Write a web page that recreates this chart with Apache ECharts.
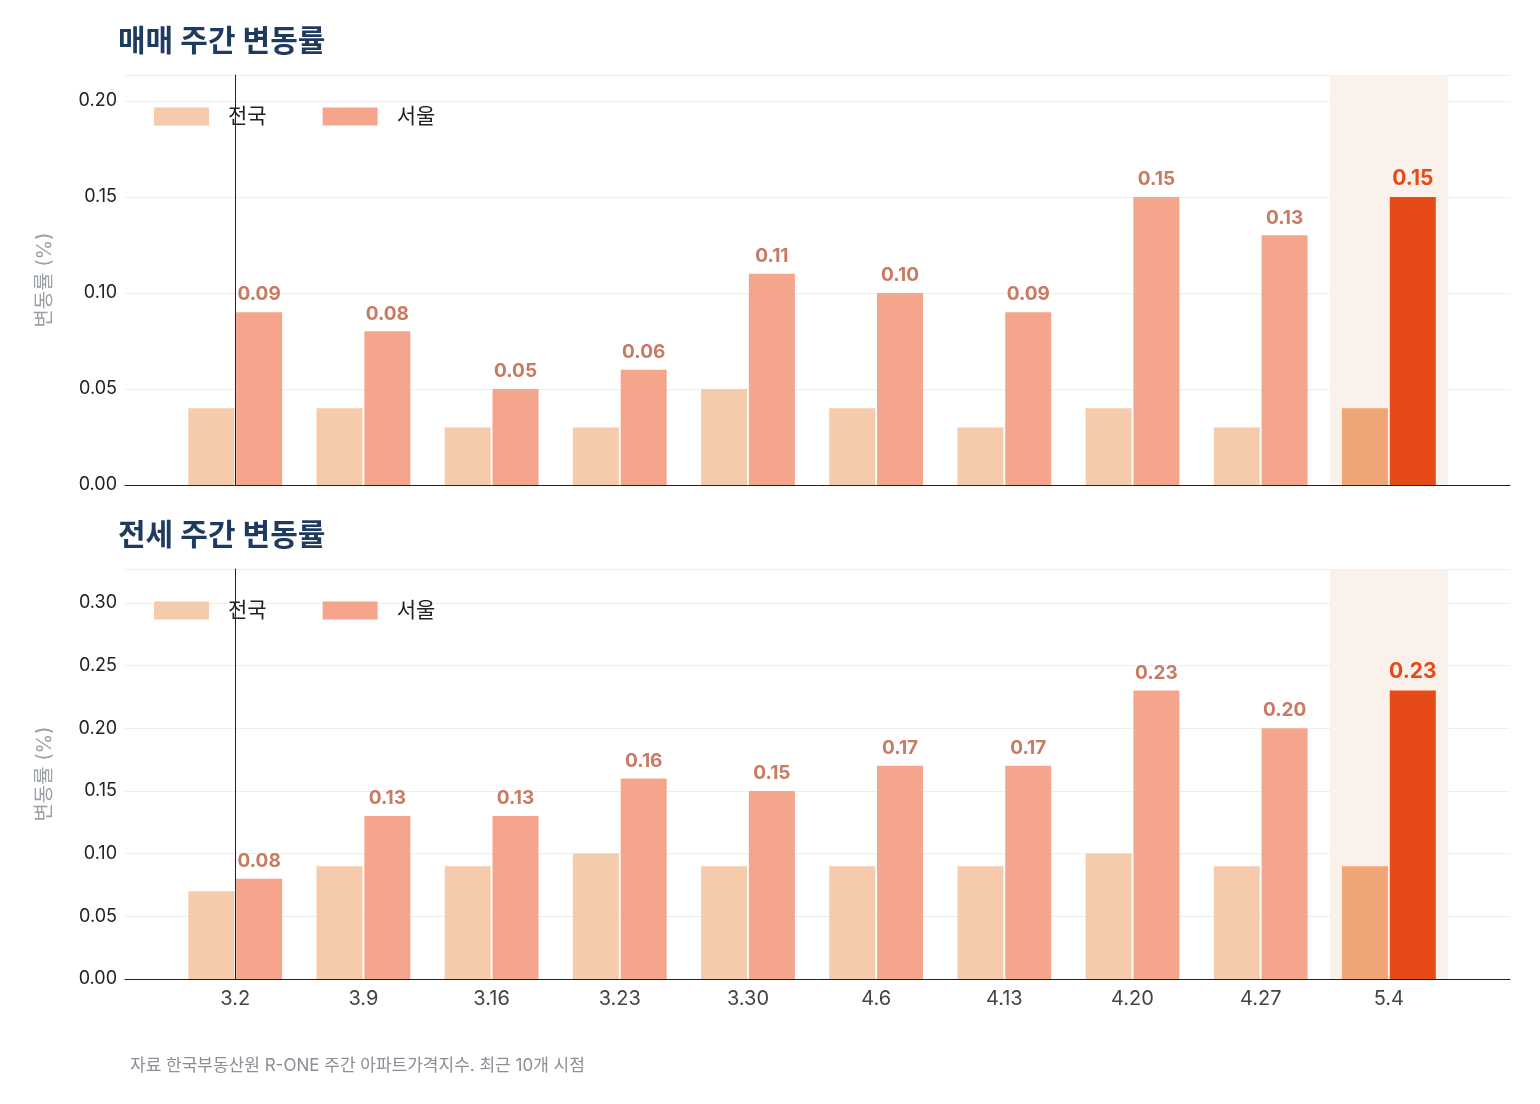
<!DOCTYPE html>
<html><head><meta charset="utf-8">
<script src="https://cdn.jsdelivr.net/npm/echarts@6/dist/echarts.min.js"></script>
<style>html,body{margin:0;background:#fff}#c{width:1540px;height:1104px}</style>
</head><body><div id="c"></div>
<script>
var weeks = ['3.2','3.9','3.16','3.23','3.30','4.6','4.13','4.20','4.27','5.4'];
var saleNation = [0.04,0.04,0.03,0.03,0.05,0.04,0.03,0.04,0.03,0.04];
var saleSeoul = [0.09,0.08,0.05,0.06,0.11,0.10,0.09,0.15,0.13,0.15];
var rentNation = [0.07,0.09,0.09,0.10,0.09,0.09,0.09,0.10,0.09,0.09];
var rentSeoul = [0.08,0.13,0.13,0.16,0.15,0.17,0.17,0.23,0.20,0.23];

var FONT = 'Inter, "Noto Sans CJK KR", sans-serif';
var last = weeks.length - 1;

function pts(arr, colNormal, colLast) {
    return arr.map(function (v, i) {
        return { value: [i, v], itemStyle: { color: i === last ? colLast : colNormal } };
    });
}

function seoulPts(arr) {
    return arr.map(function (v, i) {
        var d = { value: [i, v], itemStyle: { color: i === last ? '#e64a19' : '#f4a58b' } };
        if (i === last) d.label = { color: '#e64a19', fontSize: 21, fontWeight: 'bold' };
        return d;
    });
}

function xAxis(idx, showLabel) {
    return {
        type: 'value', gridIndex: idx, min: -0.86, max: 9.945,
        splitLine: { show: false },
        axisLine: { show: true, onZero: false, lineStyle: { color: '#222' } },
        axisTick: { show: false },
        axisLabel: {
            show: showLabel, customValues: weeks.map(function (w, i) { return i; }),
            formatter: function (v) { return weeks[Math.round(v)]; },
            fontSize: 20, color: '#444', fontFamily: FONT, margin: 10
        }
    };
}

function yAxis(idx, max) {
    return {
        type: 'value', gridIndex: idx, min: 0, max: max, interval: 0.05,
        name: '변동률 (%)', nameLocation: 'middle', nameGap: 70,
        nameTextStyle: { color: '#9aa0a6', fontSize: 20, fontFamily: FONT },
        axisLine: { show: true, lineStyle: { color: '#222' } },
        axisTick: { show: false },
        axisLabel: { formatter: function (v) { return v.toFixed(2); }, fontSize: 18, color: '#222', fontFamily: FONT, showMaxLabel: false },
        splitLine: { lineStyle: { color: '#eeeeee' } }
    };
}

function bars(idx, nation, seoul) {
    return [
        {
            name: '전국', type: 'bar', xAxisIndex: idx, yAxisIndex: idx,
            barWidth: 46, barGap: '4%', color: '#f6cbab',
            data: pts(nation, '#f6cbab', '#f0a576'),
            markArea: {
                silent: true, itemStyle: { color: '#faf1ea' },
                data: [[{ xAxis: 8.54, yAxis: 0 }, { xAxis: 9.46, yAxis: idx === 0 ? 0.2135 : 0.327 }]]
            }
        },
        {
            name: '서울', type: 'bar', xAxisIndex: idx, yAxisIndex: idx,
            barWidth: 46, color: '#f4a58b',
            data: seoulPts(seoul),
            label: {
                show: true, position: 'top', distance: 8,
                formatter: function (p) { return p.value[1].toFixed(2); },
                color: '#c97b62', fontSize: 19, fontWeight: 'bold', fontFamily: FONT
            }
        }
    ];
}

var legendBase = {
    left: 149, itemWidth: 55, itemHeight: 18, itemGap: 56,
    icon: 'rect', textStyle: { fontSize: 21, color: '#222', fontFamily: FONT, padding: [0, 0, 0, 14] },
    data: ['전국', '서울']
};

var chart = echarts.init(document.getElementById('c'));
chart.setOption({
    animation: false,
    title: [
        { text: '매매 주간 변동률', left: 113, top: 22, textStyle: { fontSize: 30, fontWeight: 'bold', color: '#1f3a5f', fontFamily: FONT } },
        { text: '전세 주간 변동률', left: 113, top: 516, textStyle: { fontSize: 30, fontWeight: 'bold', color: '#1f3a5f', fontFamily: FONT } },
        { text: '자료 한국부동산원 R-ONE 주간 아파트가격지수. 최근 10개 시점', left: 125, top: 1052, textStyle: { fontSize: 17, fontWeight: 'normal', color: '#8a8f96', fontFamily: FONT } }
    ],
    legend: [
        Object.assign({ top: 101 }, legendBase),
        Object.assign({ top: 595 }, legendBase)
    ],
    grid: [
        { left: 125, right: 30, top: 75, height: 410 },
        { left: 125, right: 30, top: 569, height: 410 }
    ],
    xAxis: [xAxis(0, false), xAxis(1, true)],
    yAxis: [yAxis(0, 0.2135), yAxis(1, 0.327)],
    series: bars(0, saleNation, saleSeoul).concat(bars(1, rentNation, rentSeoul))
});

// "이번 주" annotations
var g = [];
[[0, 112, 132, 158], [1, 606, 626, 654]].forEach(function (a) {
    var x = chart.convertToPixel({ xAxisIndex: a[0] }, last);
    g.push({ type: 'text', x: x, y: a[1], style: { text: '이번 주', fill: '#1f3a5f', font: 'bold 24px ' + FONT, align: 'center', verticalAlign: 'middle' } });
    g.push({ type: 'line', shape: { x1: x, y1: a[2], x2: x, y2: a[3] - 8 }, style: { stroke: '#1f3a5f', lineWidth: 2.5 } });
    g.push({ type: 'polygon', shape: { points: [[x - 7, a[3] - 10], [x + 7, a[3] - 10], [x, a[3]]] }, style: { fill: '#1f3a5f' } });
});
chart.setOption({ graphic: g });
</script></body></html>
